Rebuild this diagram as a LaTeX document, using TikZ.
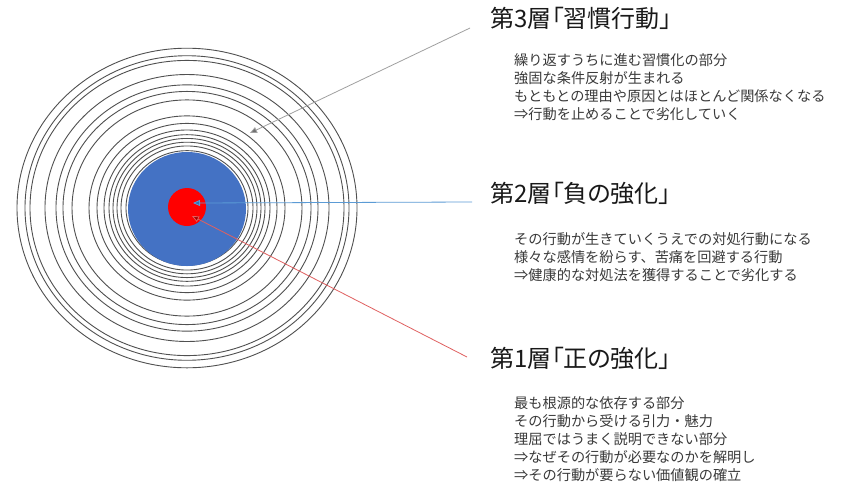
\documentclass[tikz,border=0pt]{standalone}
\usepackage{fontspec}
\setmainfont{Noto Sans CJK JP}
\newfontfamily\titlefont[RawFeature={+palt}]{Noto Sans CJK JP}
\usetikzlibrary{arrows.meta}
\definecolor{ringgray}{HTML}{505050}
\definecolor{coreblue}{HTML}{4472C4}
\definecolor{corered}{HTML}{FF0000}
\definecolor{linegray}{HTML}{A0A0A0}
\definecolor{tipgray}{HTML}{707070}
\definecolor{lineblue}{HTML}{5B9BD5}
\definecolor{tipblue}{HTML}{2E75B6}
\definecolor{linered}{HTML}{E06060}
\definecolor{tipred}{HTML}{A00000}
\definecolor{bodytext}{HTML}{3A3A3A}
\tikzset{
  ring/.style={draw=ringgray, line width=0.9pt},
  titlebox/.style={anchor=west, inner sep=0pt, font=\titlefont\fontsize{24}{28}\selectfont, text=black!90},
  bodybox/.style={anchor=north west, inner sep=0pt, align=left, font=\fontsize{14.2}{18.2}\selectfont, text=bodytext},
  callout/.style={line width=0.8pt}
}
\begin{document}
\begin{tikzpicture}[x=1pt,y=-1pt]
\useasboundingbox (0,0) rectangle (842,493);
\fill[white] (0,0) rectangle (842,493);
% rings
\foreach \r in {61,66,70,74,78,83,90,98,115,124,131,142,157,162,170}{
  \draw[ring] (187,208) ellipse [x radius=\r, y radius={0.94*\r}];
}
\fill[coreblue] (187,209) ellipse [x radius=59, y radius=57];
\node[circle, fill=corered, minimum size=38pt, inner sep=0pt] (core) at (187,207) {};
% titles
\node[titlebox] (t3) at (490,18) {第3層「習慣行動」};
\node[titlebox] (t2) at (490,193) {第2層「負の強化」};
\node[titlebox] (t1) at (490,358) {第1層「正の強化」};
% bodies
\node[bodybox] (b3) at (514,53) {繰り返すうちに進む習慣化の部分\\強固な条件反射が生まれる\\もともとの理由や原因とはほとんど関係なくなる\\⇒行動を止めることで劣化していく};
\node[bodybox] (b2) at (514,232) {その行動が生きていくうえでの対処行動になる\\様々な感情を紛らす、苦痛を回避する行動\\⇒健康的な対処法を獲得することで劣化する};
\node[bodybox] (b1) at (514,396) {最も根源的な依存する部分\\その行動から受ける引力・魅力\\理屈ではうまく説明できない部分\\⇒なぜその行動が必要なのかを解明し\\⇒その行動が要らない価値観の確立};
% connector ends
\coordinate (g0) at (470,28);
\coordinate (g1) at (250,133);
\coordinate (s0) at (472,202);
\coordinate (s1) at (193,203);
\coordinate (r0) at (467,357);
\coordinate (r1) at (192,216);
\draw[callout, draw=linegray, -{Triangle[length=7pt,width=6pt,fill=tipgray]}] (g0) -- (g1);
\draw[callout, draw=lineblue, -{Triangle[length=7pt,width=6pt,fill=tipblue]}] (s0) -- (s1);
\draw[callout, draw=linered, -{Triangle[length=7pt,width=6pt,fill=tipred]}] (r0) -- (r1);
\end{tikzpicture}
\end{document}
